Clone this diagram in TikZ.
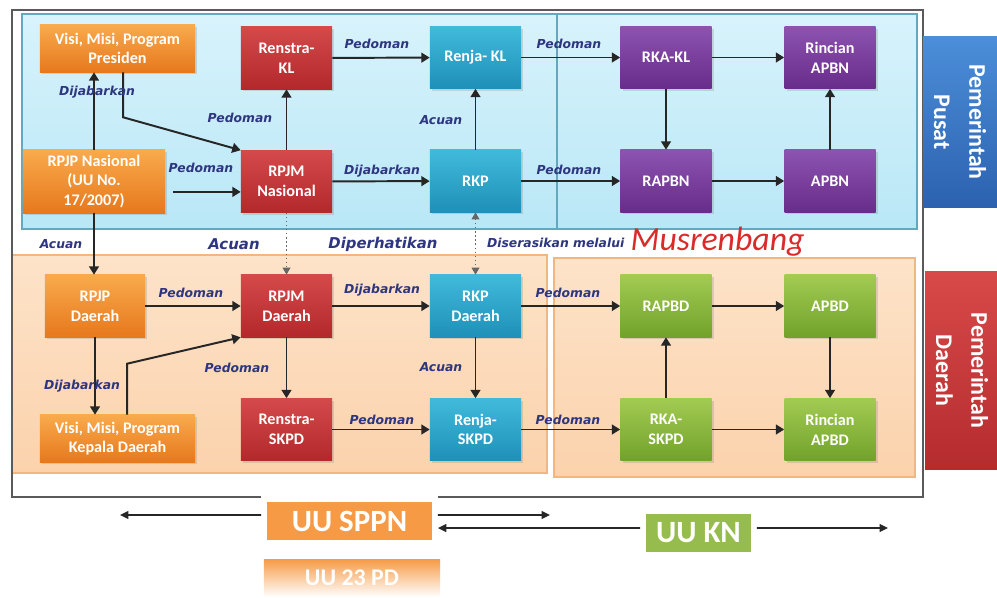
\documentclass[tikz,border=0pt]{standalone}
\usepackage{fontspec}
\setmainfont{Carlito}
\newfontfamily\lblfont{DejaVu Sans}
\usetikzlibrary{arrows.meta,shadows}
\definecolor{orlt}{HTML}{F8AA4C}
\definecolor{ordk}{HTML}{E7781D}
\definecolor{relt}{HTML}{D44A4B}
\definecolor{redk}{HTML}{B3282B}
\definecolor{tllt}{HTML}{40BADB}
\definecolor{tldk}{HTML}{1F90B8}
\definecolor{pult}{HTML}{8D53B1}
\definecolor{pudk}{HTML}{682C8A}
\definecolor{grlt}{HTML}{A2CB52}
\definecolor{grdk}{HTML}{72A22B}
\definecolor{cytop}{HTML}{D8F3FC}
\definecolor{cybot}{HTML}{B9E7F6}
\definecolor{cyln}{HTML}{64A8BE}
\definecolor{ortop}{HTML}{FDE3C9}
\definecolor{orbot}{HTML}{FBD2AC}
\definecolor{orln}{HTML}{F2B681}
\definecolor{frm}{HTML}{5A5A5A}
\definecolor{lb}{HTML}{2E3680}
\definecolor{mu}{HTML}{DA2A2A}
\definecolor{bllt}{HTML}{4C8ED9}
\definecolor{bldk}{HTML}{2C62B0}
\definecolor{rdlt}{HTML}{D84949}
\definecolor{rddk}{HTML}{B52C2E}
\definecolor{uuor}{HTML}{F69A45}
\definecolor{uugr}{HTML}{97BC4E}

\tikzset{
  box/.style={rectangle, minimum width=2.275cm, minimum height=1.55cm, align=center,
    text=white, inner sep=2pt, font=\fontsize{11.5}{14}\selectfont\bfseries,
    drop shadow={opacity=0.25, shadow xshift=1.5pt, shadow yshift=-1.5pt}},
  orbox/.style={box, top color=orlt, bottom color=ordk},
  rebox/.style={box, top color=relt, bottom color=redk},
  tlbox/.style={box, top color=tllt, bottom color=tldk},
  pubox/.style={box, top color=pult, bottom color=pudk},
  grbox/.style={box, top color=grlt, bottom color=grdk},
  tab/.style={rectangle, rotate=-90, minimum width=4.25cm, minimum height=1.85cm,
    align=center, text=white, font=\fontsize{17}{25}\selectfont\bfseries},
  uubox/.style={rectangle, minimum height=1.1cm, text=white, draw=white, line width=4pt,
    font=\fontsize{22}{26}\selectfont\bfseries},
  lbl/.style={text=lb, inner sep=1pt, font=\lblfont\fontsize{8.8}{10}\selectfont\bfseries\itshape},
  biglbl/.style={lbl, font=\lblfont\fontsize{10.6}{12}\selectfont\bfseries\itshape},
  arr/.style={-{Triangle[length=6pt, width=7pt]}, line width=1.4pt, draw=black!85},
  dotarr/.style={-{Triangle[length=5pt, width=5.5pt]}, dotted, line width=0.9pt, draw=black!60},
  thinarr/.style={-{Triangle[length=6pt, width=5.5pt]}, line width=1.3pt, draw=black!85}
}

\begin{document}
\begin{tikzpicture}[x=0.025cm, y=-0.025cm]
  \useasboundingbox (0,0) rectangle (997,597);

  % backgrounds
  \shade[top color=cytop, bottom color=cybot, draw=cyln, line width=1.2pt] (22,14) rectangle (917,229);
  \draw[draw=cyln, line width=1pt] (557,14) -- (557,229);
  \shade[top color=ortop, bottom color=orbot, draw=orln, line width=1pt] (12,255) rectangle (547,473);
  \shade[top color=ortop, bottom color=orbot, draw=orln, line width=1pt] (554,258) rectangle (915,477);
  \draw[draw=frm, line width=1.4pt] (12,10) rectangle (923,497);

  % pemerintah pusat
  \node[orbox, minimum width=3.875cm, minimum height=1.175cm] (visipres) at (117.5,48.5) {Visi, Misi, Program\\Presiden};
  \node[rebox] (renstrakl) at (286.5,58) {Renstra-\\KL};
  \node[tlbox] (renjakl) at (475.5,57.5) {Renja- KL};
  \node[pubox] (rkakl) at (666,57.5) {RKA-KL};
  \node[pubox] (rincianapbn) at (830,57.5) {Rincian\\APBN};
  \node[orbox, minimum width=3.55cm, minimum height=1.575cm] (rpjpnas) at (94,181.5) {RPJP Nasional\\(UU No.\\17/2007)};
  \node[rebox] (rpjmnas) at (286.5,181.5) {RPJM\\Nasional};
  \node[tlbox] (rkp) at (475.5,181) {RKP};
  \node[pubox] (rapbn) at (666,181) {RAPBN};
  \node[pubox] (apbn) at (830,181) {APBN};

  % pemerintah daerah
  \node[orbox, minimum width=2.5cm] (rpjpdae) at (95,306) {RPJP\\Daerah};
  \node[rebox] (rpjmdae) at (286.5,306) {RPJM\\Daerah};
  \node[tlbox] (rkpdae) at (475.5,306) {RKP\\Daerah};
  \node[grbox] (rapbd) at (666,306) {RAPBD};
  \node[grbox] (apbd) at (830,306) {APBD};
  \node[orbox, minimum width=3.875cm, minimum height=1.175cm] (visidae) at (117.5,438.5) {Visi, Misi, Program\\Kepala Daerah};
  \node[rebox] (renstraskpd) at (286.5,429.5) {Renstra-\\SKPD};
  \node[tlbox] (renjaskpd) at (475.5,429.5) {Renja-\\SKPD};
  \node[grbox] (rkaskpd) at (666,429.5) {RKA-\\SKPD};
  \node[grbox] (rincianapbd) at (830,429.5) {Rincian\\APBD};

  % side tabs
  \node[tab, top color=bllt, bottom color=bldk] (pusat) at (960,122) {Pemerintah\\Pusat};
  \node[tab, minimum width=4.925cm, top color=rdlt, bottom color=rddk] (daerah) at (962,370.5) {Pemerintah\\Daerah};

  % undang-undang
  \node[uubox, minimum width=4.275cm, fill=uuor] (sppn) at (349.5,521) {UU SPPN};
  \node[uubox, minimum width=2.775cm, fill=uugr] (uukn) at (698.5,533) {UU KN};
  \node[rectangle, minimum width=4.4cm, minimum height=0.95cm, top color=uuor, bottom color=white,
    text=white, font=\fontsize{17}{20}\selectfont\bfseries] (uupd) at (352,578) {UU 23 PD};
  \coordinate (kiri) at (120,515);
  \coordinate (tengah) at (550,515);
  \coordinate (kanan) at (888,528);

  % arrows pusat
  \draw[arr] (rpjpnas.north) -- (rpjpnas.north |- visipres.south);
  \draw[arr] ([xshift=0.14cm]visipres.south) -- ++(0,45) -- (rpjmnas.north west);
  \draw[arr] ([xshift=0.2cm, yshift=-0.26cm]rpjpnas.east) -- ([yshift=-0.26cm]rpjmnas.west);
  \draw[arr] (rpjmnas) -- (renstrakl);
  \draw[arr] (renstrakl) -- (renjakl);
  \draw[arr] (rpjmnas) -- (rkp);
  \draw[arr] (rkp) -- (renjakl);
  \draw[arr] (renjakl) -- (rkakl);
  \draw[arr] (rkp) -- (rapbn);
  \draw[arr] (rkakl) -- (rapbn);
  \draw[arr] (rkakl) -- (rincianapbn);
  \draw[arr] (rapbn) -- (apbn);
  \draw[arr] (apbn) -- (rincianapbn);

  % arrows between levels
  \draw[arr] (rpjpnas.south) -- (rpjpnas.south |- rpjpdae.north);
  \draw[dotarr] (rpjmnas) -- (rpjmdae);
  \draw[dotarr, {Triangle[length=5pt, width=5.5pt]}-{Triangle[length=5pt, width=5.5pt]}] (rkp) -- (rkpdae);

  % arrows daerah
  \draw[arr] (rpjpdae) -- (rpjmdae);
  \draw[arr] (rpjpdae.south) -- (rpjpdae.south |- visidae.north);
  \draw[arr] ([xshift=0.24cm]visidae.north) -- ++(0,-51) -- (rpjmdae.south west);
  \draw[arr] (rpjmdae) -- (renstraskpd);
  \draw[arr] (rpjmdae) -- (rkpdae);
  \draw[arr] (rkpdae) -- (renjaskpd);
  \draw[arr] (renstraskpd) -- (renjaskpd);
  \draw[arr] (rkpdae) -- (rapbd);
  \draw[arr] (renjaskpd) -- (rkaskpd);
  \draw[arr] (rkaskpd) -- (rapbd);
  \draw[arr] (rapbd) -- (apbd);
  \draw[arr] (apbd) -- (rincianapbd);
  \draw[arr] (rkaskpd) -- (rincianapbd);

  % arrows uu
  \draw[thinarr] ([yshift=0.15cm]sppn.west) -- (kiri);
  \draw[thinarr] ([yshift=0.15cm]sppn.east) -- (tengah);
  \draw[thinarr] ([yshift=0.125cm]uukn.west) -- ([yshift=-0.175cm]sppn.east);
  \draw[thinarr] ([yshift=0.125cm]uukn.east) -- (kanan);

  % labels
  \node[lbl] (dj1) at (97,92) {Dijabarkan};
  \node[lbl] (pd1) at (240,118) {Pedoman};
  \node[lbl] (pd2) at (201,168) {Pedoman};
  \node[lbl] (pd3) at (377,44) {Pedoman};
  \node[lbl] (ac1) at (441,120) {Acuan};
  \node[lbl] (dj2) at (382,171) {Dijabarkan};
  \node[lbl] (pd4) at (569,44) {Pedoman};
  \node[lbl] (pd5) at (569,170) {Pedoman};
  \node[lbl] (ac2) at (61,244) {Acuan};
  \node[biglbl] (ac3) at (234,244) {Acuan};
  \node[biglbl] (dp) at (383,244) {Diperhatikan};
  \node[lbl, anchor=base east] (ds) at (626,247) {Diserasikan melalui};
  \node[text=mu, anchor=base west, inner sep=1pt, font=\fontsize{24}{28}\selectfont\itshape] (mus) at (629,250) {Musrenbang};
  \node[lbl] (pd6) at (191,293) {Pedoman};
  \node[lbl] (dj3) at (382,290) {Dijabarkan};
  \node[lbl] (pd7) at (568,293) {Pedoman};
  \node[lbl] (dj4) at (82,386) {Dijabarkan};
  \node[lbl] (pd8) at (237,368) {Pedoman};
  \node[lbl] (ac4) at (441,367) {Acuan};
  \node[lbl] (pd9) at (382,420) {Pedoman};
  \node[lbl] (pd10) at (568,420) {Pedoman};
\end{tikzpicture}
\end{document}
